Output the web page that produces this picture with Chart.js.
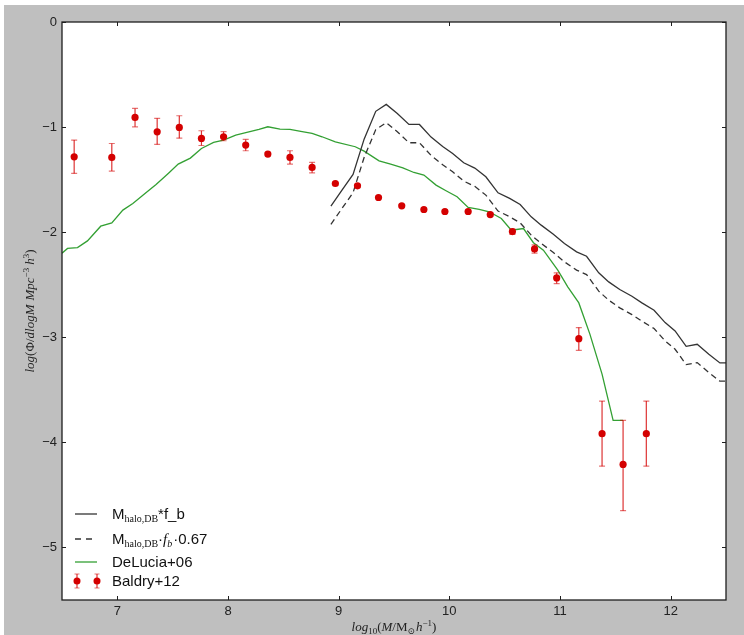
<!DOCTYPE html>
<html>
<head>
<meta charset="utf-8">
<script src="https://cdn.jsdelivr.net/npm/chart.js@4.4.1/dist/chart.umd.min.js"></script>
<style>
  html, body { margin: 0; padding: 0; background: #fff; }
  #wrap {
    position: absolute; left: 4px; top: 5px;
    width: 740px; height: 630px;
    background: #bfbfbf;
  }
</style>
</head>
<body>
<div id="wrap"><canvas id="smf"></canvas></div>
<script>
'use strict';

// ===== データ =====

const X_TICKS = [7, 8, 9, 10, 11, 12];
const Y_TICKS = [0, -1, -2, -3, -4, -5];

// M_halo,DB * f_b
const HALO_X = [8.93, 9.03, 9.13, 9.23, 9.335, 9.43, 9.53, 9.635, 9.73, 9.835,
                9.94, 10.03, 10.13, 10.23, 10.33, 10.44, 10.545, 10.64, 10.74, 10.83,
                10.94, 11.04, 11.15, 11.24, 11.35, 11.44, 11.54, 11.65, 11.74, 11.85,
                11.95, 12.04, 12.14, 12.24, 12.345, 12.445, 12.535];
const HALO_Y = [-1.752, -1.600, -1.450, -1.115, -0.850, -0.784, -0.870, -0.975, -0.975, -1.095,
                -1.184, -1.251, -1.340, -1.390, -1.473, -1.625, -1.679, -1.737, -1.854, -1.933,
                -2.019, -2.108, -2.187, -2.229, -2.387, -2.473, -2.546, -2.610, -2.673, -2.743,
                -2.860, -2.940, -3.086, -3.067, -3.162, -3.244, -3.244];

// M_halo,DB * f_b * 0.67
const HALO67_Y = [-1.926, -1.774, -1.624, -1.289, -1.024, -0.958, -1.044, -1.149, -1.149, -1.269,
                  -1.358, -1.425, -1.514, -1.564, -1.647, -1.799, -1.853, -1.911, -2.028, -2.107,
                  -2.193, -2.282, -2.361, -2.403, -2.561, -2.647, -2.720, -2.784, -2.847, -2.917,
                  -3.034, -3.114, -3.260, -3.241, -3.336, -3.418, -3.418];

// DeLucia+06
const DELUCIA_X = [6.50, 6.55, 6.64, 6.73, 6.85, 6.95, 7.05, 7.14, 7.25, 7.35,
                   7.46, 7.55, 7.66, 7.76, 7.87, 7.96, 8.07, 8.17, 8.28, 8.36,
                   8.47, 8.56, 8.67, 8.76, 8.85, 8.97, 9.15, 9.23, 9.365, 9.47,
                   9.58, 9.68, 9.77, 9.88, 9.97, 10.07, 10.17, 10.27, 10.36, 10.47,
                   10.56, 10.67, 10.76, 10.85, 10.98, 11.07, 11.17, 11.27, 11.38, 11.48,
                   11.57];
const DELUCIA_Y = [-2.200, -2.155, -2.146, -2.083, -1.943, -1.911, -1.790, -1.727, -1.632, -1.546,
                   -1.441, -1.352, -1.295, -1.203, -1.146, -1.124, -1.076, -1.050, -1.022, -0.997,
                   -1.019, -1.022, -1.044, -1.060, -1.092, -1.140, -1.187, -1.229, -1.321, -1.352,
                   -1.388, -1.432, -1.457, -1.552, -1.606, -1.663, -1.765, -1.784, -1.806, -1.870,
                   -1.981, -1.965, -2.100, -2.171, -2.362, -2.520, -2.673, -2.970, -3.350, -3.790,
                   -3.790];

// Baldry+12
const BALDRY_X = [6.61, 6.95, 7.16, 7.36, 7.56, 7.76, 7.96, 8.16, 8.36, 8.56,
                  8.76, 8.97, 9.17, 9.36, 9.57, 9.77, 9.96, 10.17, 10.37, 10.57,
                  10.77, 10.97, 11.17, 11.38, 11.57, 11.78];
const BALDRY_Y = [-1.283, -1.289, -0.908, -1.045, -1.003, -1.108, -1.092, -1.171, -1.257, -1.289,
                  -1.384, -1.537, -1.559, -1.670, -1.749, -1.784, -1.803, -1.803, -1.832, -1.994,
                  -2.159, -2.435, -3.013, -3.917, -4.210, -3.917];
const BALDRY_HI = [-1.124, -1.156, -0.822, -0.917, -0.892, -1.035, -1.044, -1.117, -1.240, -1.225,
                   -1.336, -1.525, -1.545, -1.658, -1.737, -1.770, -1.790, -1.790, -1.815, -1.970,
                   -2.120, -2.387, -2.908, -3.607, -3.790, -3.607];
const BALDRY_LO = [-1.441, -1.419, -0.997, -1.165, -1.105, -1.175, -1.130, -1.225, -1.275, -1.352,
                   -1.435, -1.550, -1.573, -1.682, -1.761, -1.800, -1.816, -1.816, -1.850, -2.020,
                   -2.200, -2.489, -3.124, -4.227, -4.650, -4.227];

// ===== スタイル =====

const RED      = '#d40000';
const RED_BAR  = 'rgba(212, 0, 0, 0.8)';
const RED_CAP  = 'rgba(212, 0, 0, 0.55)';
const GREEN    = '#33a033';
const DARK     = '#333333';
const FRAME    = '#1e1e1e';
const SANS     = '"Liberation Sans", Arial, sans-serif';
const SERIF    = '"Liberation Serif", "DejaVu Serif", serif';

const sans   = s => `${s}px ${SANS}`;
const serif  = s => `${s}px ${SERIF}`;
const serifI = s => `italic ${s}px ${SERIF}`;

const toPoints = (xs, ys) => xs.map((x, i) => ({ x, y: ys[i] }));

// ===== リッチテキスト（上付き・下付き） =====

function richWidth(ctx, segs) {
    return segs.reduce((w, s) => {
        ctx.font = s.f;
        return w + ctx.measureText(s.t).width + (s.gap || 0);
    }, 0);
}

function drawRich(ctx, segs, x, y, align) {
    let cx = align === 'center' ? x - richWidth(ctx, segs) / 2 : x;
    ctx.textBaseline = 'alphabetic';
    ctx.textAlign = 'left';
    segs.forEach(s => {
        ctx.font = s.f;
        ctx.fillText(s.t, cx, y + (s.dy || 0));
        cx += ctx.measureText(s.t).width + (s.gap || 0);
    });
}

// ===== 装飾プラグイン =====

function drawErrorBar(ctx, x, yHi, yLo, capHalf) {
    ctx.strokeStyle = RED_BAR;
    ctx.lineWidth = 1.2;
    ctx.beginPath();
    ctx.moveTo(x, yHi);
    ctx.lineTo(x, yLo);
    ctx.stroke();
    ctx.strokeStyle = RED_CAP;
    ctx.beginPath();
    ctx.moveTo(x - capHalf, yHi);
    ctx.lineTo(x + capHalf, yHi);
    ctx.moveTo(x - capHalf, yLo);
    ctx.lineTo(x + capHalf, yLo);
    ctx.stroke();
}

const decorPlugin = {
    id: 'decor',
    beforeDraw(chart) {
        const { ctx, chartArea: a } = chart;
        ctx.save();
        ctx.fillStyle = '#ffffff';
        ctx.fillRect(a.left, a.top, a.right - a.left, a.bottom - a.top);
        ctx.restore();
    },
    beforeDatasetDraw(chart, args) {
        if (args.index !== 0) return;
        const { ctx, chartArea: a, scales: { x, y } } = chart;
        ctx.save();
        ctx.beginPath();
        ctx.rect(a.left, a.top, a.right - a.left, a.bottom - a.top);
        ctx.clip();
        BALDRY_X.forEach((v, i) => {
            const px = x.getPixelForValue(v);
            drawErrorBar(ctx, px, y.getPixelForValue(BALDRY_HI[i]), y.getPixelForValue(BALDRY_LO[i]), 3);
        });
        ctx.restore();
    },
    afterDraw(chart) {
        const { ctx, chartArea: a, scales: { x, y } } = chart;
        ctx.save();

        // 枠と内向きの目盛り
        ctx.strokeStyle = FRAME;
        ctx.lineWidth = 1.3;
        ctx.strokeRect(a.left, a.top, a.right - a.left, a.bottom - a.top);
        ctx.lineWidth = 1;
        ctx.beginPath();
        X_TICKS.forEach(v => {
            const px = Math.round(x.getPixelForValue(v)) + 0.5;
            ctx.moveTo(px, a.bottom); ctx.lineTo(px, a.bottom - 4);
            ctx.moveTo(px, a.top);    ctx.lineTo(px, a.top + 4);
        });
        Y_TICKS.forEach(v => {
            const py = Math.round(y.getPixelForValue(v)) + 0.5;
            ctx.moveTo(a.left, py);  ctx.lineTo(a.left + 4, py);
            ctx.moveTo(a.right, py); ctx.lineTo(a.right - 4, py);
        });
        ctx.stroke();

        // 軸タイトル
        ctx.fillStyle = '#222';
        const xTitle = [
            { t: 'log', f: serifI(13) },
            { t: '10', f: serif(9), dy: 3 },
            { t: '(', f: serif(13) },
            { t: 'M', f: serifI(13) },
            { t: '/M', f: serif(13) },
            { t: '⊙', f: serif(9), dy: 3, gap: 1 },
            { t: 'h', f: serifI(13) },
            { t: '−1', f: serif(9), dy: -5 },
            { t: ')', f: serif(13) },
        ];
        drawRich(ctx, xTitle, (a.left + a.right) / 2, 626, 'center');

        const yTitle = [
            { t: 'log', f: serifI(13) },
            { t: '(Φ/', f: serif(13) },
            { t: 'dlogM', f: serifI(13), gap: 4 },
            { t: 'Mpc', f: serifI(13) },
            { t: '−3', f: serif(9), dy: -5, gap: 3 },
            { t: 'h', f: serifI(13) },
            { t: '3', f: serif(9), dy: -5 },
            { t: ')', f: serif(13) },
        ];
        ctx.save();
        ctx.translate(30, (a.top + a.bottom) / 2);
        ctx.rotate(-Math.PI / 2);
        drawRich(ctx, yTitle, 0, 0, 'center');
        ctx.restore();

        // 凡例（左下）
        const lx0 = 71, lx1 = 93, tx = 108;
        const rows = [509, 534, 557, 576];
        ctx.lineWidth = 1.3;

        ctx.strokeStyle = DARK;
        ctx.beginPath(); ctx.moveTo(lx0, rows[0]); ctx.lineTo(lx1, rows[0]); ctx.stroke();
        ctx.setLineDash([6, 5]);
        ctx.beginPath(); ctx.moveTo(lx0, rows[1]); ctx.lineTo(lx1, rows[1]); ctx.stroke();
        ctx.setLineDash([]);
        ctx.strokeStyle = GREEN;
        ctx.beginPath(); ctx.moveTo(lx0, rows[2]); ctx.lineTo(lx1, rows[2]); ctx.stroke();
        [lx0 + 2, lx1].forEach(mx => {
            drawErrorBar(ctx, mx, rows[3] - 7, rows[3] + 7, 2.5);
            ctx.fillStyle = RED;
            ctx.beginPath(); ctx.arc(mx, rows[3], 3.5, 0, Math.PI * 2); ctx.fill();
        });

        ctx.fillStyle = '#111';
        drawRich(ctx, [
            { t: 'M', f: sans(15) },
            { t: 'halo,DB', f: serif(10), dy: 3 },
            { t: '*f_b', f: sans(15) },
        ], tx, rows[0] + 5);
        drawRich(ctx, [
            { t: 'M', f: sans(15) },
            { t: 'halo,DB', f: serif(10), dy: 3 },
            { t: '·', f: sans(15) },
            { t: 'f', f: serifI(15) },
            { t: 'b', f: serifI(10), dy: 3, gap: 1 },
            { t: '·0.67', f: sans(15) },
        ], tx, rows[1] + 5);
        drawRich(ctx, [{ t: 'DeLucia+06', f: sans(15) }], tx, rows[2] + 5);
        drawRich(ctx, [{ t: 'Baldry+12', f: sans(15) }], tx, rows[3] + 5);

        ctx.restore();
    },
};

// ===== グラフ =====

const tickFont = { family: SANS, size: 13 };
const minusLabel = v => String(v).replace('-', '−');

new Chart(document.getElementById('smf').getContext('2d'), {
    type: 'scatter',
    data: {
        datasets: [
            {
                label: 'Baldry+12',
                data: toPoints(BALDRY_X, BALDRY_Y),
                showLine: false,
                pointRadius: 3.6,
                pointBackgroundColor: RED,
                pointBorderColor: RED,
                pointBorderWidth: 0,
            },
            {
                label: 'M_halo,DB*f_b',
                data: toPoints(HALO_X, HALO_Y),
                showLine: true,
                pointRadius: 0,
                borderColor: DARK,
                borderWidth: 1.3,
            },
            {
                label: 'M_halo,DB*f_b*0.67',
                data: toPoints(HALO_X, HALO67_Y),
                showLine: true,
                pointRadius: 0,
                borderColor: DARK,
                borderWidth: 1.3,
                borderDash: [6, 4],
            },
            {
                label: 'DeLucia+06',
                data: toPoints(DELUCIA_X, DELUCIA_Y),
                showLine: true,
                pointRadius: 0,
                borderColor: GREEN,
                borderWidth: 1.3,
            },
        ],
    },
    options: {
        responsive: true,
        maintainAspectRatio: false,
        animation: false,
        layout: { padding: { top: 17, right: 18, left: 0, bottom: 0 } },
        plugins: {
            legend: { display: false },
            tooltip: { enabled: false },
        },
        scales: {
            x: {
                type: 'linear',
                min: 6.5,
                max: 12.5,
                afterBuildTicks: s => { s.ticks = X_TICKS.map(v => ({ value: v })); },
                afterFit: s => { s.height = 35; },
                grid: { display: false, drawTicks: false },
                border: { display: false },
                ticks: { font: tickFont, color: '#222', padding: 4, callback: minusLabel, maxRotation: 0 },
            },
            y: {
                type: 'linear',
                min: -5.5,
                max: 0,
                afterBuildTicks: s => { s.ticks = Y_TICKS.map(v => ({ value: v })); },
                afterFit: s => { s.width = 58; },
                grid: { display: false, drawTicks: false },
                border: { display: false },
                ticks: { font: tickFont, color: '#222', padding: 5, callback: minusLabel },
            },
        },
    },
    plugins: [decorPlugin],
});
</script>
</body>
</html>
